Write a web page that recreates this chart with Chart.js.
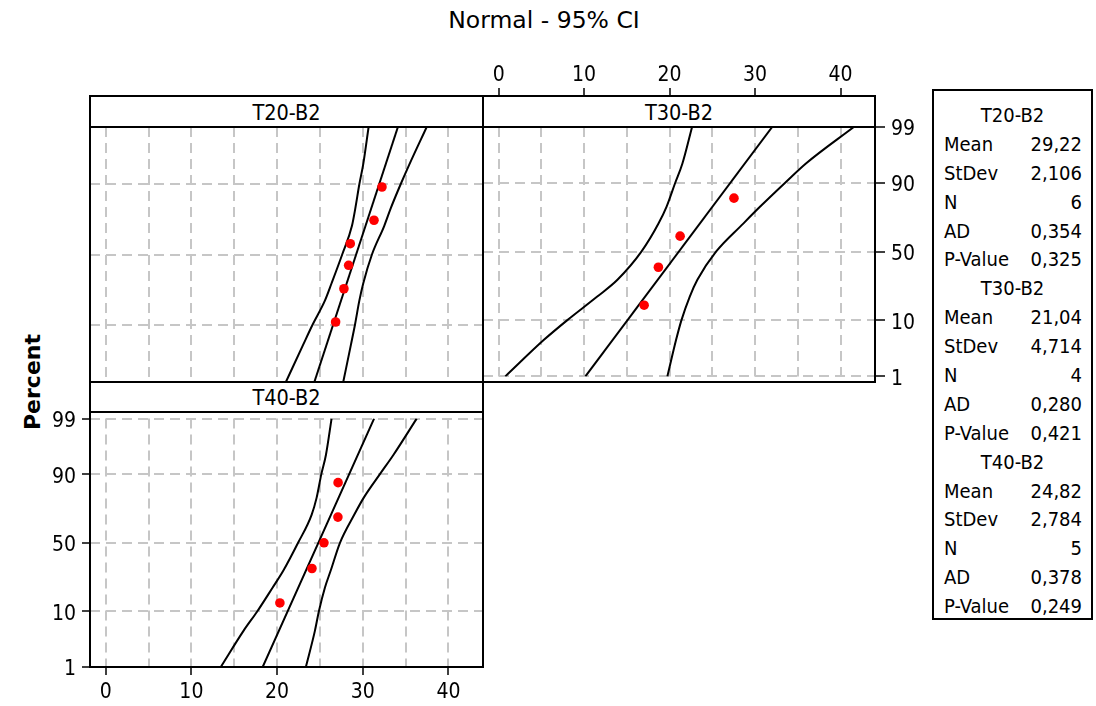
<!DOCTYPE html>
<html>
<head>
<meta charset="utf-8">
<title>Normal - 95% CI</title>
<script src="https://cdn.jsdelivr.net/npm/chart.js@4/dist/chart.umd.min.js"></script>
<style>
  html, body { margin: 0; padding: 0; background: #fff; }
  body { position: relative; width: 1096px; height: 706px; overflow: hidden;
         font-family: "DejaVu Sans Condensed", "DejaVu Sans", sans-serif; color: #000; }
  canvas { position: absolute; }
  .box { position: absolute; box-sizing: border-box; border: 2px solid #000; }
  .strip { position: absolute; box-sizing: border-box; border: 2px solid #000; background: #fff;
           text-align: center; font-size: 21.5px; }
  #title { position: absolute; left: 0; top: 6px; width: 1088px; text-align: center;
           font-family: "DejaVu Sans", sans-serif; font-size: 23.5px; }
  #ylabel { position: absolute; left: 32px; top: 382px; transform: translate(-50%, -50%) rotate(-90deg);
            font-family: "DejaVu Sans", sans-serif; font-weight: bold; font-size: 22px; white-space: nowrap; }
  #stats { position: absolute; left: 932px; top: 89px; width: 161px; height: 531px; box-sizing: border-box;
           border: 2px solid #000; padding-top: 10px; font-size: 20px; }
  .row { position: relative; height: 28.9px; line-height: 28.9px; }
  .row.head { text-align: center; }
  .row .k { position: absolute; left: 10px; }
  .row .v { position: absolute; right: 9px; }
</style>
</head>
<body>
<div id="title">Normal - 95% CI</div>
<div id="ylabel">Percent</div>
<canvas id="c20" width="393" height="255" style="left:90px;top:127px"></canvas>
<canvas id="c30" width="447" height="340" style="left:483px;top:55px"></canvas>
<canvas id="c40" width="453" height="306" style="left:30px;top:400px"></canvas>
<div class="box" style="left:89px;top:95px;width:395px;height:288px"></div>
<div class="box" style="left:482px;top:95px;width:394px;height:288px"></div>
<div class="box" style="left:89px;top:381px;width:395px;height:287px"></div>
<div class="strip" style="left:89px;top:95px;width:395px;height:33px;line-height:31px">T20-B2</div>
<div class="strip" style="left:482px;top:95px;width:394px;height:33px;line-height:31px">T30-B2</div>
<div class="strip" style="left:89px;top:381px;width:395px;height:32px;line-height:30px">T40-B2</div>
<div id="stats"></div>
<script>
// axes
const xMin = -1.83, xMax = 44.03;
const xGrid = [0, 5, 10, 15, 20, 25, 30, 35, 40];
const xLabels = [0, 10, 20, 30, 40];
const yTicks = [1, 10, 50, 90, 99];

const ciPercent = [1, 5, 10, 20, 30, 50, 70, 80, 90, 95, 99];
const fitPercent = [1, 99];

// T20-B2
const t20Values = [26.83, 27.8, 28.35, 28.54, 31.31, 32.24];
const t20Percent = [10.9, 26.6, 42.2, 57.8, 73.4, 89.1];
const t20Fit = [24.35, 34.1];
const t20Lower = [21.03, 23.05, 24.14, 25.58, 26.36, 27.6, 28.74, 29.13, 29.6, 30.05, 30.68];
const t20Upper = [27.72, 28.62, 29.09, 29.6, 30.06, 31.07, 32.51, 33.26, 34.42, 35.44, 37.46];

// T30-B2
const t30Values = [17.02, 18.69, 21.23, 27.53];
const t30Percent = [15.9, 38.6, 61.4, 84.1];
const t30Fit = [10.15, 32.0];
const t30Lower = [0.78, 5.3, 8.0, 11.5, 13.9, 16.7, 18.7, 19.65, 20.65, 21.5, 22.63];
const t30Upper = [19.74, 20.76, 21.38, 22.35, 23.25, 25.43, 28.62, 30.6, 33.49, 35.95, 41.55];

// T40-B2
const t40Values = [20.33, 24.07, 25.47, 27.1, 27.12];
const t40Percent = [13.0, 31.5, 50.0, 68.5, 87.0];
const t40Fit = [18.32, 31.32];
const t40Lower = [13.43, 16.1, 17.7, 19.47, 20.72, 22.45, 24.03, 24.61, 25.16, 25.7, 26.36];
const t40Upper = [23.36, 24.42, 24.88, 25.58, 26.25, 27.34, 29.0, 30.1, 31.98, 33.57, 36.29];

// stats box
const statPanels = ['T20-B2', 'T30-B2', 'T40-B2'];
const statNames = ['Mean', 'StDev', 'N', 'AD', 'P-Value'];
const statMean = ['29,22', '21,04', '24,82'];
const statStDev = ['2,106', '4,714', '2,784'];
const statN = ['6', '4', '5'];
const statAD = ['0,354', '0,280', '0,378'];
const statP = ['0,325', '0,421', '0,249'];

const gridColor = '#c6c6c6';
const font = { family: "'DejaVu Sans Condensed', 'DejaVu Sans', sans-serif", size: 21 };

// inverse normal cdf (Acklam), used by the probability scale
function probit(p) {
  const a = [-3.969683028665376e+01, 2.209460984245205e+02, -2.759285104469687e+02, 1.383577518672690e+02, -3.066479806614716e+01, 2.506628277459239e+00];
  const b = [-5.447609879822406e+01, 1.615858368580409e+02, -1.556989798598866e+02, 6.680131188771972e+01, -1.328068155288572e+01];
  const c = [-7.784894002430293e-03, -3.223964580411365e-01, -2.400758277161838e+00, -2.549671348433316e+00, 4.374664141464968e+00, 2.938163982698783e+00];
  const d = [7.784695709041462e-03, 3.224671290700398e-01, 2.445134137142996e+00, 3.754408661907416e+00];
  const pl = 0.02425;
  if (p < pl) {
    const q = Math.sqrt(-2 * Math.log(p));
    return (((((c[0]*q+c[1])*q+c[2])*q+c[3])*q+c[4])*q+c[5]) / ((((d[0]*q+d[1])*q+d[2])*q+d[3])*q+1);
  }
  if (p > 1 - pl) {
    const q = Math.sqrt(-2 * Math.log(1 - p));
    return -(((((c[0]*q+c[1])*q+c[2])*q+c[3])*q+c[4])*q+c[5]) / ((((d[0]*q+d[1])*q+d[2])*q+d[3])*q+1);
  }
  const q = p - 0.5, r = q * q;
  return (((((a[0]*r+a[1])*r+a[2])*r+a[3])*r+a[4])*r+a[5])*q / (((((b[0]*r+b[1])*r+b[2])*r+b[3])*r+b[4])*r+1);
}

// normal probability axis
class ProbabilityScale extends Chart.LinearScale {
  buildTicks() {
    return yTicks.map(v => ({ value: v }));
  }
  getPixelForValue(v) {
    const z0 = probit(this.min / 100), z1 = probit(this.max / 100);
    return this.getPixelForDecimal((probit(v / 100) - z0) / (z1 - z0));
  }
}
ProbabilityScale.id = 'probability';
ProbabilityScale.defaults = {};
Chart.register(ProbabilityScale);

function xScale(position, show, size, tickLen, pad) {
  return {
    type: 'linear', position, min: xMin, max: xMax,
    afterBuildTicks: s => { s.ticks = xGrid.map(v => ({ value: v })); },
    afterFit: s => { s.height = size; },
    grid: {
      color: gridColor, lineWidth: 2, drawTicks: show, tickLength: tickLen, tickWidth: 1.5,
      tickColor: c => (c.tick && xLabels.includes(c.tick.value)) ? '#000' : 'rgba(0,0,0,0)'
    },
    border: { display: false, dash: [10, 6] },
    ticks: {
      display: show, autoSkip: false, maxRotation: 0, padding: pad, font, color: '#000',
      callback: v => xLabels.includes(v) ? String(v) : ''
    }
  };
}

function yScale(position, show, size, tickLen, pad) {
  return {
    type: 'probability', position, min: 1, max: 99,
    afterFit: s => { s.width = size; },
    grid: { color: gridColor, lineWidth: 2, drawTicks: show, tickLength: tickLen, tickWidth: 1.5, tickColor: '#000' },
    border: { display: false, dash: [10, 6] },
    ticks: { display: show, autoSkip: false, padding: pad, labelOffset: 3, font, color: '#000', callback: v => String(v) }
  };
}

function curve(xs, ps) {
  return {
    data: xs.map((x, i) => ({ x, y: ps[i] })),
    showLine: true, pointRadius: 0, borderColor: '#000', borderWidth: 2,
    cubicInterpolationMode: 'monotone', fill: false
  };
}

function makeChart(id, values, percent, fit, lower, upper, scales, padding) {
  return new Chart(document.getElementById(id), {
    type: 'scatter',
    data: {
      datasets: [
        { data: values.map((v, i) => ({ x: v, y: percent[i] })), pointRadius: 4.8,
          backgroundColor: '#ff0000', borderWidth: 0 },
        curve(fit, fitPercent),
        curve(lower, ciPercent),
        curve(upper, ciPercent)
      ]
    },
    options: {
      responsive: false, animation: false, events: [],
      layout: { padding, autoPadding: false },
      plugins: { legend: { display: false }, tooltip: { enabled: false } },
      scales
    }
  });
}

makeChart('c20', t20Values, t20Percent, t20Fit, t20Lower, t20Upper,
  { x: xScale('bottom', false, 0, 0, 0), y: yScale('left', false, 0, 0, 0) }, 0);

makeChart('c30', t30Values, t30Percent, t30Fit, t30Lower, t30Upper,
  { x: xScale('top', true, 72, 39, 0), y: yScale('right', true, 55, 10, 6) },
  { top: 0, left: 0, right: 0, bottom: 13 });

makeChart('c40', t40Values, t40Percent, t40Fit, t40Lower, t40Upper,
  { x: xScale('bottom', true, 39, 8, 5), y: yScale('left', true, 60, 8, 6) },
  { top: 12, left: 0, right: 0, bottom: 0 });

// stats box text
const stats = document.getElementById('stats');
statPanels.forEach((name, i) => {
  const head = document.createElement('div');
  head.className = 'row head';
  head.textContent = name;
  stats.appendChild(head);
  const vals = [statMean[i], statStDev[i], statN[i], statAD[i], statP[i]];
  statNames.forEach((k, j) => {
    const row = document.createElement('div');
    row.className = 'row';
    row.innerHTML = '<span class="k"></span><span class="v"></span>';
    row.children[0].textContent = k;
    row.children[1].textContent = vals[j];
    stats.appendChild(row);
  });
});
</script>
</body>
</html>
